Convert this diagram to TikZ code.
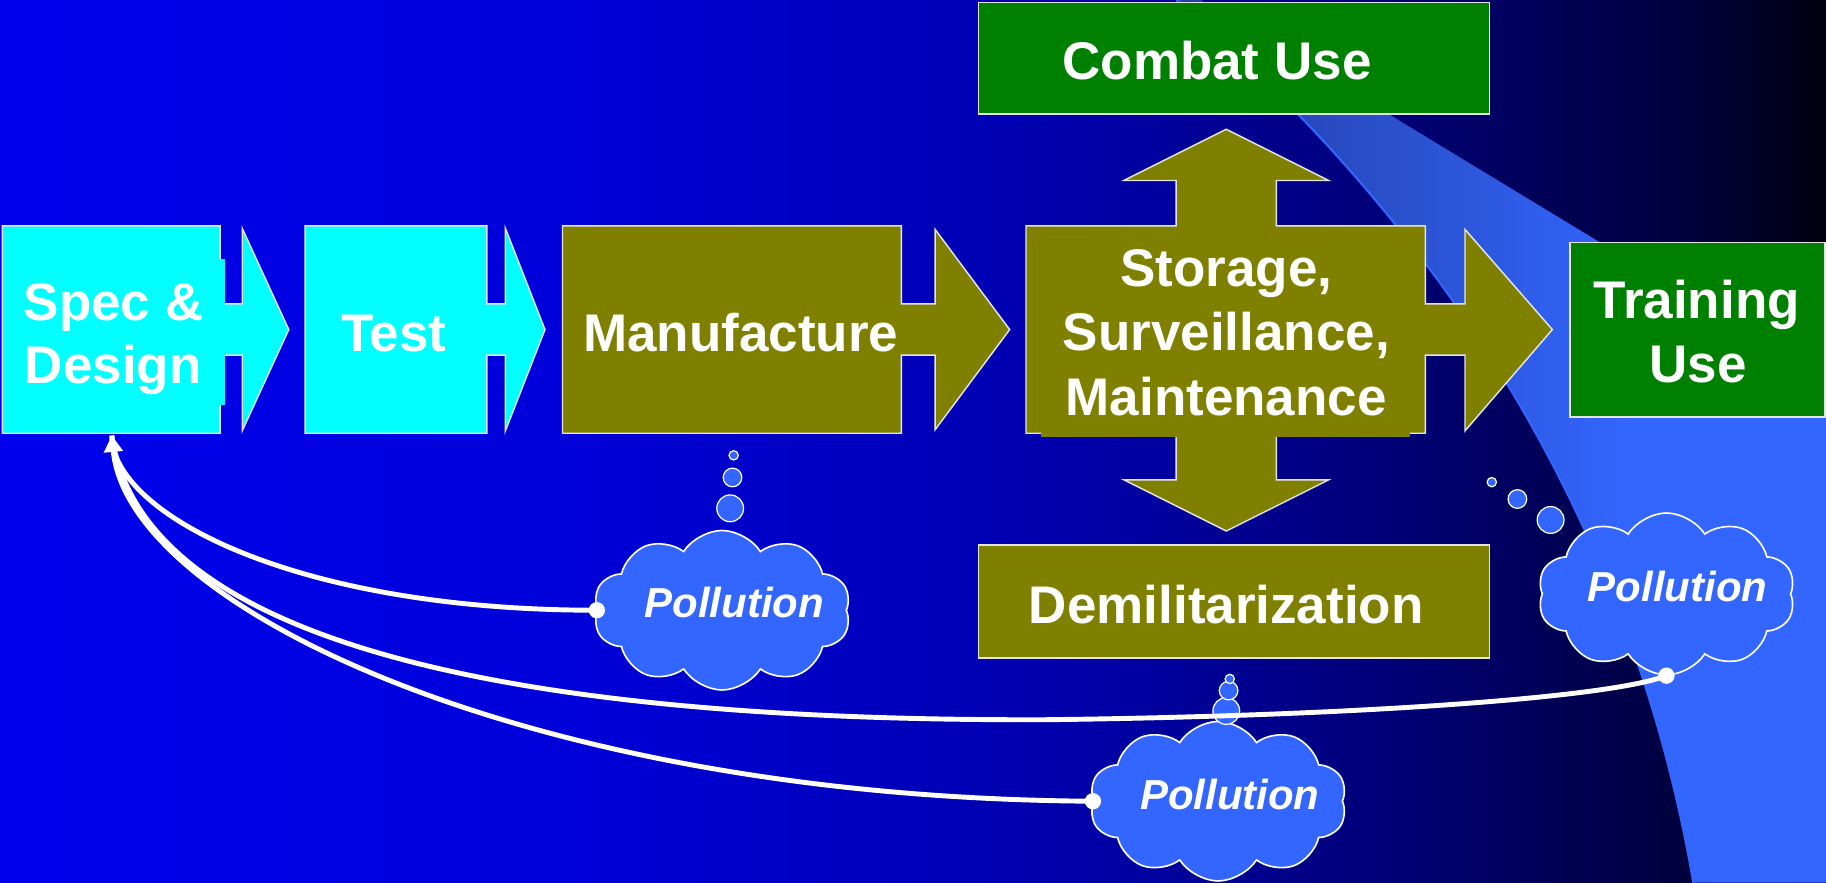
\documentclass[tikz,border=0pt]{standalone}
\usepackage{fontspec}
\setmainfont{Liberation Sans}
\usetikzlibrary{shapes.symbols,arrows.meta}
\definecolor{cyanbox}{RGB}{0,255,255}
\definecolor{olivebox}{RGB}{128,128,0}
\definecolor{greenbox}{RGB}{0,128,0}
\definecolor{cloudblue}{RGB}{51,102,255}
\definecolor{edgegray}{RGB}{228,228,228}
\definecolor{bgA}{RGB}{0,0,238}
\definecolor{bgB}{RGB}{0,0,216}
\definecolor{bgC}{RGB}{0,0,178}
\definecolor{bgD}{RGB}{0,0,156}
\definecolor{bgE}{RGB}{0,0,116}
\definecolor{bgF}{RGB}{0,0,86}
\definecolor{bgG}{RGB}{0,0,62}
\definecolor{bgH}{RGB}{0,0,16}
\definecolor{bandA}{RGB}{36,64,168}
\definecolor{bandB}{RGB}{42,80,205}
\pgfdeclarehorizontalshading{bgshade}{100bp}{color(0bp)=(bgA); color(25bp)=(bgA); color(41bp)=(bgB); color(52.5bp)=(bgC); color(57bp)=(bgD); color(63.5bp)=(bgE); color(67.5bp)=(bgF); color(71bp)=(bgG); color(75bp)=(bgH); color(100bp)=(bgH)}
\pgfdeclarehorizontalshading{bandshade}{100bp}{color(0bp)=(bandA); color(25bp)=(bandA); color(42bp)=(bandB); color(60bp)=(cloudblue); color(100bp)=(cloudblue)}
\begin{document}
\begin{tikzpicture}[x=0.02cm,y=-0.02cm,
  boxline/.style={draw=edgegray, line width=0.7pt},
  lbl/.style={text=white, font=\fontsize{25.9pt}{31pt}\selectfont\bfseries, inner sep=0pt, anchor=base},
  lblw/.style={lbl, anchor=base west},
  poll/.style={text=white, font=\fontsize{20.5pt}{24pt}\selectfont\bfseries\itshape, inner sep=0pt, anchor=base},
  bubble/.style={circle, fill=cloudblue, draw=white, line width=0.6pt, inner sep=0pt},
  puff/.style={cloud, cloud puffs=10, cloud puff arc=115, cloud ignores aspect, fill=cloudblue, draw=white, line width=0.8pt, inner sep=0pt, minimum width=4.42cm, minimum height=2.74cm},
  conn/.style={draw=white, line width=2.4pt},
  dotnode/.style={circle, fill=white, inner sep=0pt, minimum size=0.28cm}]
\useasboundingbox (0,0) rectangle (1568,758);
% background
\shade[shading=bgshade] (0,0) rectangle (1568,758);
% light band
\shade[shading=bandshade] (1010,0) -- (1031,0) -- (1568,326) -- (1568,758) -- (1454,758) .. controls (1410,500) and (1280,230) .. (1010,0) -- cycle;
\draw[cloudblue, line width=1pt] (1454,758) .. controls (1410,500) and (1280,230) .. (1010,0);

% Spec & Design arrow
\path[boxline, fill=cyanbox] (2,194) -- (189,194) -- (189,261) -- (208,261) -- (208,196) -- (248,283) -- (208,370) -- (208,305) -- (189,305) -- (189,372) -- (2,372) -- cycle;
\fill[cyanbox] (188,222) rectangle (193,348);
% Test arrow
\path[boxline, fill=cyanbox] (262,194) -- (418,194) -- (418,261) -- (434,261) -- (434,196) -- (468,283) -- (434,370) -- (434,305) -- (418,305) -- (418,372) -- (262,372) -- cycle;
% Manufacture arrow
\path[boxline, fill=olivebox] (483,194) -- (774,194) -- (774,261) -- (803,261) -- (803,197) -- (867,283) -- (803,369) -- (803,305) -- (774,305) -- (774,372) -- (483,372) -- cycle;
% Storage shape
\path[boxline, fill=olivebox] (881,194) -- (1010,194) -- (1010,155) -- (965,155) -- (1053,111) -- (1141,155) -- (1096,155) -- (1096,194) -- (1224,194) -- (1224,261) -- (1258,261) -- (1258,197) -- (1333,283) -- (1258,370) -- (1258,305) -- (1224,305) -- (1224,372) -- (1096,372) -- (1096,412) -- (1141,412) -- (1053,456) -- (965,412) -- (1010,412) -- (1010,372) -- (881,372) -- cycle;
\fill[olivebox] (894,197) rectangle (1211,375);
% Combat, Training, Demilitarization boxes
\path[boxline, fill=greenbox] (840,2) rectangle (1279,98);
\path[boxline, fill=greenbox] (1348,208) rectangle (1567,358);
\path[boxline, fill=olivebox] (840,468) rectangle (1279,565);

% clouds
\node[puff] (c1) at (620,524) {};
\node[puff] (c2) at (1046,688) {};
\node[puff, minimum height=2.78cm] (c3) at (1431,510) {};
% bubbles
\node[bubble, minimum size=0.46cm] (b1a) at (627,436.5) {};
\node[bubble, minimum size=0.32cm] (b1b) at (629,410) {};
\node[bubble, minimum size=0.16cm] (b1c) at (630,391) {};
\node[bubble, minimum size=0.46cm] (b2a) at (1053,610.5) {};
\node[bubble, minimum size=0.32cm] (b2b) at (1055,593) {};
\node[bubble, minimum size=0.16cm] (b2c) at (1056,583) {};
\node[bubble, minimum size=0.46cm] (b3a) at (1331.5,446.5) {};
\node[bubble, minimum size=0.32cm] (b3b) at (1303,428.5) {};
\node[bubble, minimum size=0.16cm] (b3c) at (1281,414) {};

% connectors
\coordinate (specin) at (96,374);
\coordinate (m2) at (900,618);
\node[dotnode] (d1) at (c1.west) {};
\node[dotnode] (d2) at (c3.south) {};
\node[dotnode] (d3) at (c2.west) {};
\draw[conn] (d1.center) .. controls (250,524) and (96,440) .. (specin);
\draw[conn] (d2.center) .. controls (1380,600) and (1150,615) .. (m2) .. controls (400,620) and (120,540) .. (specin);
\draw[conn, -{Triangle[width=9pt,length=8pt]}] (d3.center) .. controls (450,685) and (110,520) .. (specin);

% texts
\node[lblw] (t-spec1) at (20,275) {Spec \&};
\node[lblw] (t-spec2) at (21,329) {Design};
\node[lbl] (t-test) at (338,302) {Test};
\node[lbl] (t-manu) at (636,302) {Manufacture};
\node[lbl] (t-stor1) at (1053,246) {Storage,};
\node[lbl] (t-stor2) at (1053,300.6) {Surveillance,};
\node[lbl] (t-stor3) at (1053,356.4) {Maintenance};
\node[lbl] (t-combat) at (1045,68) {Combat Use};
\node[lbl] (t-train1) at (1457,273.4) {Training};
\node[lbl] (t-train2) at (1458,328.6) {Use};
\node[lbl] (t-demil) at (1053,535) {Demilitarization};
\node[poll] (p1) at (630.5,530) {Pollution};
\node[poll] (p2) at (1056,694.8) {Pollution};
\node[poll] (p3) at (1440.5,516.7) {Pollution};
\end{tikzpicture}
\end{document}
